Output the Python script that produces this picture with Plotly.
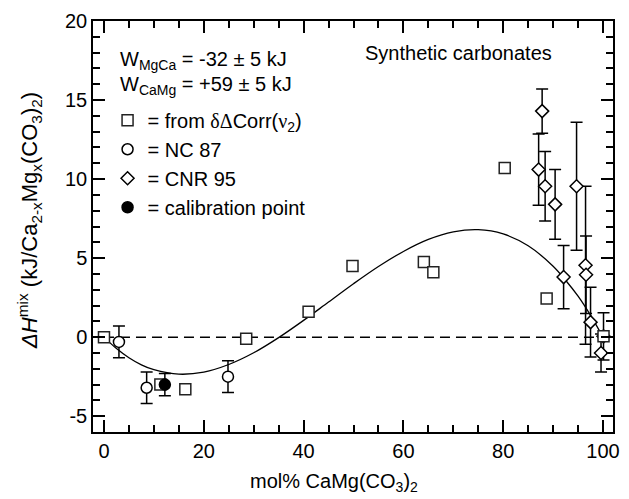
import plotly.graph_objects as go

# ---- data ----
sq_x = [0, 11.3, 16.3, 28.5, 41.0, 49.8, 64.1, 66.0, 80.3, 88.7, 100.1]
sq_y = [0, -3.0, -3.3, -0.1, 1.6, 4.5, 4.75, 4.1, 10.7, 2.45, 0.05]

nc_x = [3.0, 8.55, 24.85]
nc_y = [-0.3, -3.2, -2.5]
nc_err = [1.0, 1.0, 1.0]

cal_x = [12.2]
cal_y = [-3.0]
cal_err = [0.7]

cnr_x = [87.8, 87.1, 88.4, 90.4, 92.1, 94.7, 96.5, 96.6, 97.5, 99.6, 100.1]
cnr_y = [14.3, 10.6, 9.55, 8.4, 3.8, 9.55, 4.55, 3.95, 0.95, -1.0, 0.05]
cnr_err = [1.4, 2.25, 2.2, 2.2, 2.0, 4.05, 5.0, 2.45, 2.2, 1.2, 1.5]

fit_x = [0, 2.5, 5, 7.5, 10, 15, 20, 25, 30, 35, 40, 45, 50, 55, 60, 65,
         70, 75, 80, 85, 90, 92.5, 95, 97.5, 100]
fit_y = [0, -0.72, -1.3, -1.75, -2.06, -2.34, -2.21, -1.73, -0.99, -0.03,
         1.06, 2.22, 3.38, 4.47, 5.42, 6.18, 6.66, 6.8, 6.53, 5.78, 4.49,
         3.6, 2.59, 1.38, 0]

zero_x = [0, 100]
zero_y = [0, 0]

x_ticks = [0, 20, 40, 60, 80, 100]
y_ticks = [-5, 0, 5, 10, 15, 20]

FONT = "Liberation Sans, Arial, sans-serif"
SERIF = "Liberation Serif"

fig = go.Figure()

fig.add_trace(go.Scatter(x=fit_x, y=fit_y, mode="lines", line_shape="spline",
                         line=dict(color="black", width=1.3), showlegend=False,
                         hoverinfo="skip"))
fig.add_trace(go.Scatter(x=zero_x, y=zero_y, mode="lines",
                         line=dict(color="black", width=1.5, dash="10px,6px"),
                         showlegend=False, hoverinfo="skip"))

err_style = dict(type="data", color="black", thickness=1.5, width=6)

fig.add_trace(go.Scatter(
    x=cnr_x, y=cnr_y, mode="markers", name="= CNR 95", legendrank=3,
    error_y=dict(array=cnr_err, **err_style),
    marker=dict(symbol="diamond", size=10, color="white",
                line=dict(color="black", width=1.5))))
fig.add_trace(go.Scatter(
    x=nc_x, y=nc_y, mode="markers", name="= NC 87", legendrank=2,
    error_y=dict(array=nc_err, **err_style),
    marker=dict(symbol="circle", size=11, color="white",
                line=dict(color="black", width=1.5))))
fig.add_trace(go.Scatter(
    x=sq_x, y=sq_y, mode="markers", legendrank=1,
    name=("= from <span style='font-family:%s'>δΔ</span>Corr("
          "<span style='font-family:%s'>ν</span><sub>2</sub>)") % (SERIF, SERIF),
    marker=dict(symbol="square", size=11, color="white",
                line=dict(color="#222", width=1.5))))
fig.add_trace(go.Scatter(
    x=cal_x, y=cal_y, mode="markers", name="= calibration point", legendrank=4,
    error_y=dict(array=cal_err, **err_style),
    marker=dict(symbol="circle", size=11, color="black",
                line=dict(color="black", width=1.5))))

axis_common = dict(showline=True, linecolor="black", linewidth=1.5, mirror="allticks",
                   ticks="inside", tickcolor="black", tickwidth=1.5, ticklen=12,
                   showgrid=False, zeroline=False,
                   tickfont=dict(family=FONT, size=20, color="black"))

fig.update_xaxes(range=[-2.2, 102], tickvals=x_ticks, ticktext=[str(v) for v in x_ticks],
                 minor=dict(dtick=5, tick0=0, ticks="inside", ticklen=7,
                            tickcolor="black", tickwidth=1.5, showgrid=False),
                 **axis_common)
fig.update_yaxes(range=[-6, 20], tickvals=y_ticks, ticktext=[str(v) for v in y_ticks],
                 minor=dict(dtick=1, tick0=0, ticks="inside", ticklen=7,
                            tickcolor="black", tickwidth=1.5, showgrid=False),
                 **axis_common)

ann_font = dict(family=FONT, size=20, color="black")
fig.update_layout(
    width=629, height=499,
    margin=dict(l=93, r=9, t=21, b=67),
    paper_bgcolor="white", plot_bgcolor="white",
    font=dict(family=FONT, size=20, color="black"),
    showlegend=True,
    legend=dict(x=0.028, y=0.806, xanchor="left", yanchor="top",
                bgcolor="rgba(0,0,0,0)", borderwidth=0,
                font=dict(family=FONT, size=20, color="black"),
                itemsizing="trace"),
    annotations=[
        dict(text="W<sub>MgCa</sub> = -32 ± 5 kJ", xref="paper", yref="paper",
             x=0.0474, y=0.905, xanchor="left", yanchor="middle", showarrow=False,
             font=ann_font),
        dict(text="W<sub>CaMg</sub> = +59 ± 5 kJ", xref="paper", yref="paper",
             x=0.0474, y=0.844, xanchor="left", yanchor="middle", showarrow=False,
             font=ann_font),
        dict(text="Synthetic carbonates", xref="paper", yref="paper",
             x=0.52, y=0.922, xanchor="left", yanchor="middle", showarrow=False,
             font=ann_font),
        dict(text="mol% CaMg(CO<sub>3</sub>)<sub>2</sub>", xref="paper", yref="paper",
             x=0.464, y=-0.124, xanchor="center", yanchor="middle", showarrow=False,
             font=ann_font),
        dict(text=("<i>ΔH</i><sup>mix</sup> (kJ/Ca<sub>2-x</sub>Mg<sub>x</sub>"
                   "(CO<sub>3</sub>)<sub>2</sub>)"),
             xref="paper", yref="paper", x=-0.122, y=0.515, textangle=-90,
             xanchor="center", yanchor="middle", showarrow=False,
             font=dict(family=FONT, size=22, color="black")),
    ],
)

fig.write_html("out.html")
